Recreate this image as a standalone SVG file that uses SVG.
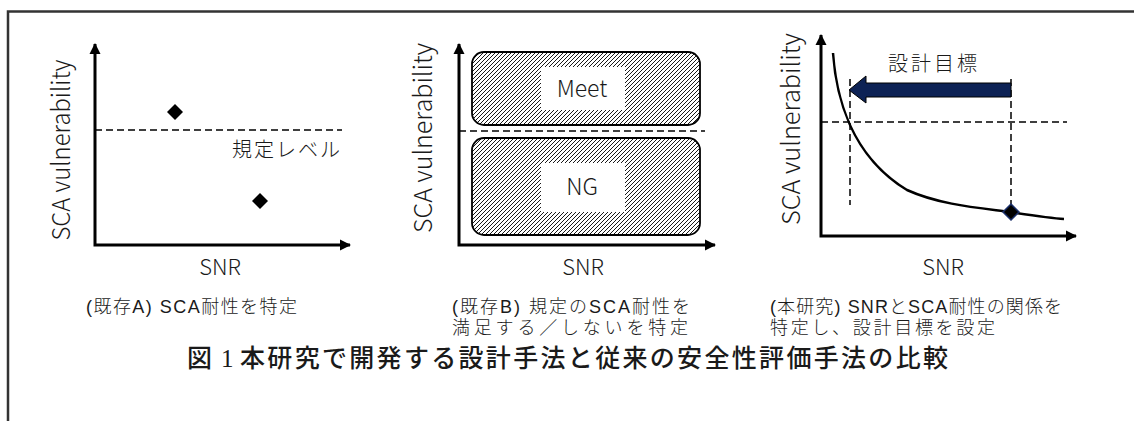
<svg xmlns="http://www.w3.org/2000/svg" width="1134" height="421" viewBox="0 0 1134 421">
  <style>
    .t { font-family: "Noto Sans CJK JP", "Noto Sans", sans-serif; fill: #1a1a1a; font-weight: 300; }
    .ttl { font-family: "Noto Sans CJK JP", "Noto Sans", sans-serif; fill: #1a1a1a; font-weight: 500; font-size: 25px; }
    .c { font-family: "Liberation Sans", "Noto Sans CJK JP", sans-serif; fill: #1a1a1a; font-size: 18px; font-weight: 300; }
    .axis { fill: none; stroke: #000; stroke-width: 3; }
    .dash { fill: none; stroke: #000; stroke-width: 1.5; stroke-dasharray: 7 4; }
    .ylab { font-size: 25px; }
    .xlab { font-size: 22px; }
    .box { fill: url(#hatch); stroke: #000; stroke-width: 1.8; }
  </style>
  <defs>
    <marker id="ah" markerUnits="userSpaceOnUse" markerWidth="12" markerHeight="12" viewBox="0 0 12 12" refX="10" refY="6" orient="auto-start-reverse">
      <path d="M0,0.5 L11,6 L0,11.5 Z" fill="#000"/>
    </marker>
    <pattern id="hatch" patternUnits="userSpaceOnUse" width="4" height="4">
      <rect width="4" height="4" fill="#fff"/>
      <path d="M-1,5 L5,-1 M-1,1 L1,-1 M3,5 L5,3" stroke="#000" stroke-width="0.9" shape-rendering="crispEdges"/>
    </pattern>
  </defs>

  <!-- frame -->
  <path d="M8,421 L8,11.5 L1134,11.5" fill="none" stroke="#333" stroke-width="2.5"/>

  <!-- Panel A -->
  <g id="panelA">
    <path class="axis" d="M95,44 L95,245 L350,245" marker-start="url(#ah)" marker-end="url(#ah)"/>
    <line class="dash" x1="95" y1="130" x2="342" y2="130"/>
    <polygon points="175,104 183,112 175,120 167,112" fill="#000"/>
    <polygon points="260,193 268,201 260,209 252,201" fill="#000"/>
    <text class="t" x="232" y="157" font-size="20" textLength="108" lengthAdjust="spacing">規定レベル</text>
    <text class="t ylab" transform="translate(70,150) rotate(-90)" text-anchor="middle" textLength="181" lengthAdjust="spacingAndGlyphs">SCA vulnerability</text>
    <text class="t xlab" x="220" y="275" text-anchor="middle">SNR</text>
  </g>

  <!-- Panel B -->
  <g id="panelB">
    <rect class="box" x="472" y="52" width="228" height="73" rx="12"/>
    <rect class="box" x="472" y="138" width="228" height="97" rx="12"/>
    <rect x="541" y="67" width="84" height="43" fill="#fff"/>
    <rect x="541" y="163" width="84" height="49" fill="#fff"/>
    <text class="t" x="582" y="97" font-size="23" text-anchor="middle">Meet</text>
    <text class="t" x="582" y="195" font-size="23" text-anchor="middle">NG</text>
    <line class="dash" x1="459" y1="131" x2="705" y2="131"/>
    <path class="axis" d="M459,44 L459,245 L715,245" marker-start="url(#ah)" marker-end="url(#ah)"/>
    <text class="t ylab" transform="translate(432,138) rotate(-90)" text-anchor="middle" textLength="190" lengthAdjust="spacingAndGlyphs">SCA vulnerability</text>
    <text class="t xlab" x="583" y="275" text-anchor="middle">SNR</text>
  </g>

  <!-- Panel C -->
  <g id="panelC">
    <path class="axis" d="M821,35 L821,236 L1076,236" marker-start="url(#ah)" marker-end="url(#ah)"/>
    <line class="dash" x1="821" y1="122" x2="1067" y2="122"/>
    <line class="dash" x1="850" y1="79" x2="850" y2="205"/>
    <line class="dash" x1="1011" y1="79" x2="1011" y2="212"/>
    <path d="M833,53 C836,95 850,155 907,190 C940,205 980,208 1010,212 C1030,215 1050,218 1064,219" fill="none" stroke="#000" stroke-width="2.5"/>
    <polygon points="849,90 866,76 866,83 1011,83 1011,97 866,97 866,103" fill="#0d2255" stroke="#000" stroke-width="1"/>
    <polygon points="1011,204 1019,212 1011,220 1003,212" fill="#000" stroke="#1a2f6a" stroke-width="1.5"/>
    <text class="t" x="888" y="71" font-size="20" textLength="89" lengthAdjust="spacing">設計目標</text>
    <text class="t ylab" transform="translate(800,129) rotate(-90)" text-anchor="middle" textLength="192" lengthAdjust="spacingAndGlyphs">SCA vulnerability</text>
    <text class="t xlab" x="943" y="275" text-anchor="middle">SNR</text>
  </g>

  <!-- captions -->
  <g id="captions">
    <text class="c" x="86" y="313" textLength="211" lengthAdjust="spacing">(既存A) SCA耐性を特定</text>
    <text class="c" x="452" y="313" textLength="238" lengthAdjust="spacing">(既存B) 規定のSCA耐性を</text>
    <text class="c" x="452" y="334" textLength="236" lengthAdjust="spacing">満足する／しないを特定</text>
    <text class="c" x="770" y="313" textLength="292" lengthAdjust="spacing">(本研究) SNRとSCA耐性の関係を</text>
    <text class="c" x="770" y="334" textLength="225" lengthAdjust="spacing">特定し、設計目標を設定</text>
  </g>

  <!-- title -->
  <g id="title">
    <text class="ttl" x="187" y="367">図</text>
    <text x="221" y="367" font-size="25" font-family="Liberation Serif, serif" fill="#1a1a1a">1</text>
    <text class="ttl" x="240" y="367" textLength="708" lengthAdjust="spacing">本研究で開発する設計手法と従来の安全性評価手法の比較</text>
  </g>
</svg>
